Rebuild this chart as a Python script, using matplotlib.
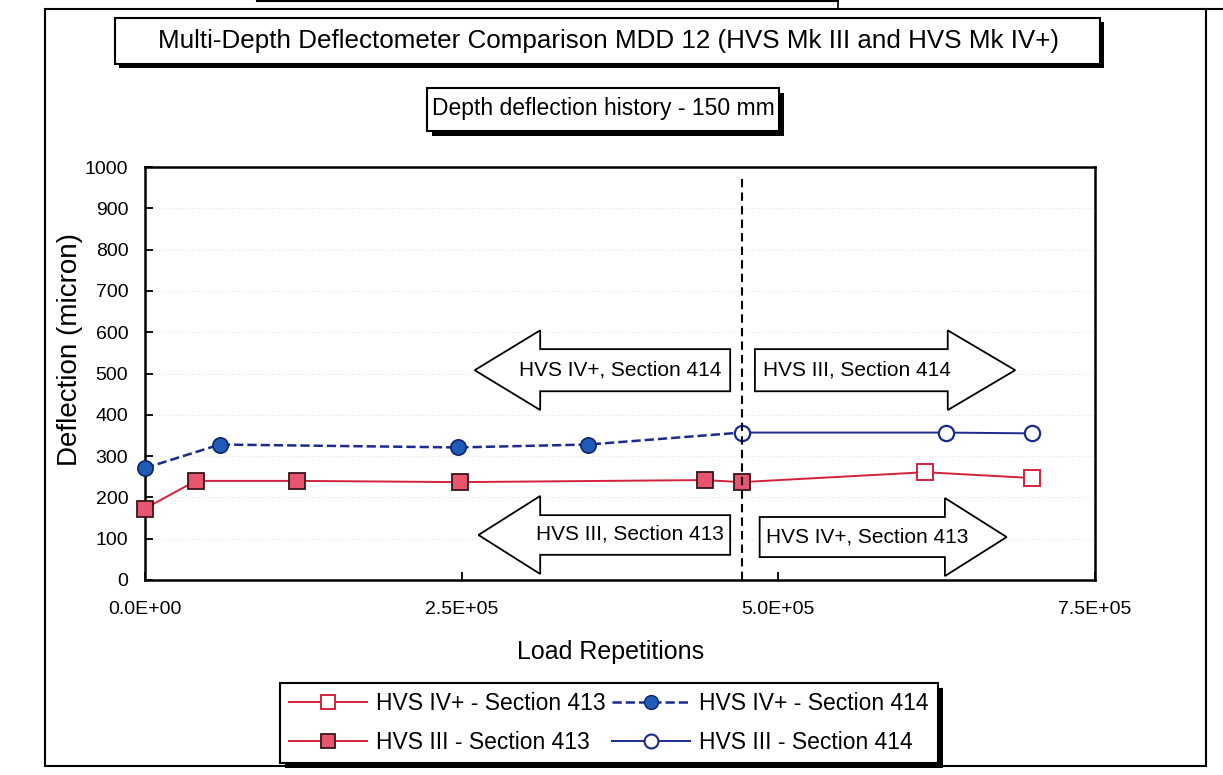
import matplotlib
matplotlib.use("Agg")
import matplotlib.pyplot as plt
from matplotlib.patches import Rectangle, Polygon
from matplotlib.lines import Line2D
from matplotlib.ticker import FuncFormatter, MultipleLocator

plt.rcParams['font.family'] = ['Liberation Sans', 'DejaVu Sans']

# ---------------- data ----------------
title = "Multi-Depth Deflectometer Comparison MDD 12 (HVS Mk III and HVS Mk IV+)"
subtitle = "Depth deflection history - 150 mm"
x_label = "Load Repetitions"
y_label = "Deflection (micron)"

x_III_413 = [0, 4.0e4, 1.2e5, 2.49e5, 4.42e5, 4.71e5]
y_III_413 = [173, 240, 240, 237, 242, 237]

x_IV_413 = [4.71e5, 6.16e5, 7.0e5]      # first point = change-over (no marker)
y_IV_413 = [237, 261, 247]

x_IV_414 = [0, 5.9e4, 2.47e5, 3.5e5, 4.71e5]   # last point = change-over (no marker)
y_IV_414 = [271, 328, 321, 328, 357]

x_III_414 = [4.71e5, 6.32e5, 7.0e5]
y_III_414 = [357, 357, 355]

changeover_x = 4.71e5

label_IV_413 = "HVS IV+ - Section 413"
label_IV_414 = "HVS IV+ - Section 414"
label_III_413 = "HVS III - Section 413"
label_III_414 = "HVS III - Section 414"

arrow_texts = ["HVS IV+, Section 414", "HVS III, Section 414",
               "HVS III, Section 413", "HVS IV+, Section 413"]

# ---------------- layout helpers ----------------
W, H = 1223, 775
fig = plt.figure(figsize=(W / 100, H / 100), dpi=100)


def fx(px):
    return px / W


def fy(py):
    return 1 - py / H


def fig_box(x0, y0, x1, y1, shadow=5, lw=1.5):
    fig.patches.append(Rectangle((fx(x0 + shadow), fy(y1 + shadow)), fx(x1 - x0), (y1 - y0) / H,
                                 transform=fig.transFigure, facecolor='black', edgecolor='black',
                                 lw=0, zorder=1))
    fig.patches.append(Rectangle((fx(x0), fy(y1)), fx(x1 - x0), (y1 - y0) / H,
                                 transform=fig.transFigure, facecolor='white', edgecolor='black',
                                 lw=lw, zorder=2))


# outer frame and page lines
fig.patches.append(Rectangle((fx(45), fy(766)), fx(1206 - 45), (766 - 9) / H,
                             transform=fig.transFigure, fill=False, edgecolor='black', lw=1.5))
fig.add_artist(Line2D([fx(1206), fx(1223)], [fy(9), fy(9)], transform=fig.transFigure, color='black', lw=1.5))
fig.add_artist(Line2D([fx(838), fx(838)], [fy(0), fy(8)], transform=fig.transFigure, color='black', lw=1.2))
fig.add_artist(Line2D([fx(257), fx(838)], [fy(1), fy(1)], transform=fig.transFigure, color='black', lw=1.5))

# title boxes
fig_box(115, 18, 1100, 64, shadow=4)
fig.text(fx(608), fy(41), title, ha='center', va='center', fontsize=18.7, zorder=3)
fig_box(427, 88, 779, 131, shadow=5)
fig.text(fx(603), fy(109), subtitle, ha='center', va='center', fontsize=16.5, zorder=3)

# ---------------- axes ----------------
ax = fig.add_axes([fx(145), fy(580), fx(1095 - 145), (580 - 167) / H])
ax.set_xlim(0, 7.5e5)
ax.set_ylim(0, 1000)

red = '#D4213A'
navy = '#1B2A8C'

ax.plot(x_IV_413, y_IV_413, color=red, lw=1.4, marker='s', markevery=[1, 2], markersize=11,
        markerfacecolor='white', markeredgecolor=red, markeredgewidth=1.4, zorder=4, clip_on=False)
ax.plot(x_III_413, y_III_413, color=red, lw=1.4, marker='s', markersize=11,
        markerfacecolor='#E8556E', markeredgecolor='#3A1518', markeredgewidth=1.3, zorder=5, clip_on=False)
ax.plot(x_IV_414, y_IV_414, color=navy, lw=1.8, ls='--', marker='o', markevery=[0, 1, 2, 3],
        markersize=11, markerfacecolor='#1F5CB8', markeredgecolor='#0D2466', markeredgewidth=1.2,
        zorder=4, clip_on=False)
ax.plot(x_III_414, y_III_414, color=navy, lw=1.4, marker='o', markersize=11,
        markerfacecolor='white', markeredgecolor=navy, markeredgewidth=1.6, zorder=5, clip_on=False)

ax.axvline(changeover_x, ymin=0, ymax=0.975, color='black', lw=1.5, ls=(0, (4, 2.5)), zorder=6)

for s in ax.spines.values():
    s.set_linewidth(1.8)
ax.xaxis.set_major_locator(MultipleLocator(2.5e5))
ax.yaxis.set_major_locator(MultipleLocator(100))
ax.xaxis.set_major_formatter(FuncFormatter(lambda v, p: f"{v:.1E}"))
ax.tick_params(axis='both', direction='in', length=6, width=1.3, labelsize=14)
ax.tick_params(axis='x', pad=15)
ax.tick_params(axis='y', pad=12)
ax.grid(axis='y', color='#e4e4e4', lw=0.8, ls=(0, (1, 2)))
ax.set_axisbelow(True)
ax.set_xlabel(x_label, fontsize=18, va='center')
ax.xaxis.set_label_coords(0.49, -0.174)
ax.set_ylabel(y_label, fontsize=20, va='center')
ax.yaxis.set_label_coords(-0.079, 0.557)

# ---------------- direction arrows (axes fraction) ----------------
def arrow(tip_x, base_x, tail_x, yc, body_h, head_h):
    pts = [(tip_x, yc), (base_x, yc + head_h / 2), (base_x, yc + body_h / 2),
           (tail_x, yc + body_h / 2), (tail_x, yc - body_h / 2), (base_x, yc - body_h / 2),
           (base_x, yc - head_h / 2)]
    ax.add_patch(Polygon(pts, closed=True, transform=ax.transAxes, facecolor='white',
                         edgecolor='black', lw=1.3, zorder=3))

arrow(0.347, 0.416, 0.616, 0.508, 0.102, 0.193)
arrow(0.916, 0.845, 0.642, 0.508, 0.102, 0.193)
arrow(0.351, 0.416, 0.616, 0.109, 0.096, 0.189)
arrow(0.907, 0.842, 0.647, 0.104, 0.097, 0.189)

fs_arrow = 15
ax.text(0.607, 0.508, arrow_texts[0], transform=ax.transAxes, ha='right', va='center', fontsize=fs_arrow, zorder=7)
ax.text(0.651, 0.508, arrow_texts[1], transform=ax.transAxes, ha='left', va='center', fontsize=fs_arrow, zorder=7)
ax.text(0.609, 0.111, arrow_texts[2], transform=ax.transAxes, ha='right', va='center', fontsize=fs_arrow, zorder=7)
ax.text(0.654, 0.104, arrow_texts[3], transform=ax.transAxes, ha='left', va='center', fontsize=fs_arrow, zorder=7)

# ---------------- legend ----------------
h_IV_413 = Line2D([], [], color=red, lw=1.4, marker='s', markersize=10, markerfacecolor='white',
                  markeredgecolor=red, markeredgewidth=1.4)
h_III_413 = Line2D([], [], color=red, lw=1.4, marker='s', markersize=10, markerfacecolor='#E8556E',
                   markeredgecolor='#3A1518', markeredgewidth=1.3)
h_IV_414 = Line2D([], [], color=navy, lw=1.8, ls='--', marker='o', markersize=10,
                  markerfacecolor='#1F5CB8', markeredgecolor='#0D2466')
h_III_414 = Line2D([], [], color=navy, lw=1.4, marker='o', markersize=10, markerfacecolor='white',
                   markeredgecolor=navy, markeredgewidth=1.5)

leg = fig.legend([h_IV_413, h_III_413, h_IV_414, h_III_414],
                 [label_IV_413, label_III_413, label_IV_414, label_III_414],
                 ncol=2, loc='upper left', bbox_to_anchor=(fx(280), fy(683)),
                 bbox_transform=fig.transFigure, fontsize=16.5, frameon=True, fancybox=False,
                 framealpha=1, facecolor='white',
                 borderaxespad=0, borderpad=0.4, handlelength=3.4, handletextpad=0.4,
                 columnspacing=0.26, labelspacing=0.68)
leg.get_frame().set_edgecolor('black')
leg.get_frame().set_linewidth(1.5)
leg.set_zorder(5)

fig.canvas.draw()
bb = leg.get_window_extent()
fig.patches.append(Rectangle((bb.x0 / W + 5 / W, bb.y0 / H - 5 / H), bb.width / W, bb.height / H,
                             transform=fig.transFigure, facecolor='black', lw=0, zorder=1))

fig.savefig("out.png", dpi=100)
